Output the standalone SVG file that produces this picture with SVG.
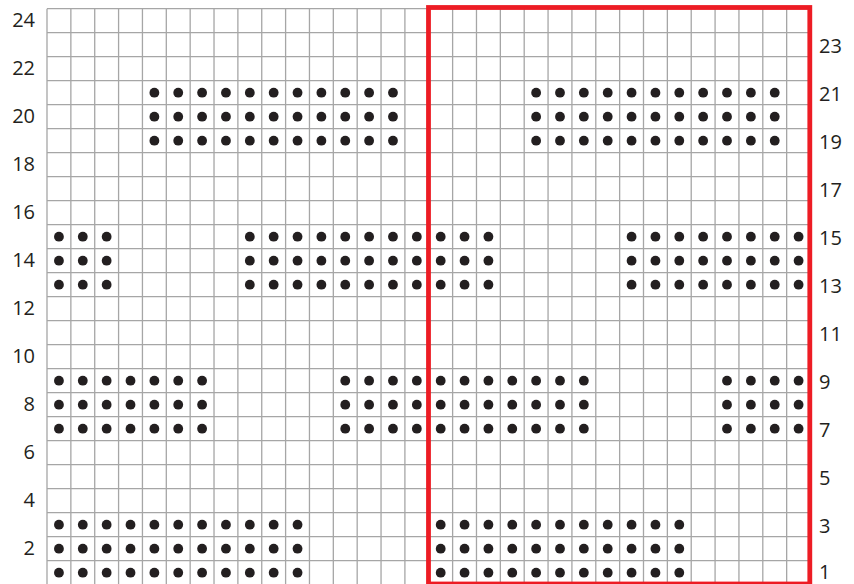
<svg xmlns="http://www.w3.org/2000/svg" xmlns:xlink="http://www.w3.org/1999/xlink" width="854" height="584" viewBox="0 0 854 584">
<style>
.grid{fill:none;stroke:#a6a6a6;stroke-width:1.3}
.frame{fill:none;stroke:#ed1c24;stroke-width:4.8}
.dot{fill:#231f20}
.lbl{font-family:"Open Sans","Liberation Sans",sans-serif;font-size:20px;fill:#231f20}
.l{text-anchor:end}
.r{text-anchor:start}
</style>
<defs>
<circle id="d" r="4.9" class="dot"/>
<g id="rowA">
<use xlink:href="#d" x="58.93"/><use xlink:href="#d" x="82.79"/><use xlink:href="#d" x="106.65"/><use xlink:href="#d" x="130.51"/><use xlink:href="#d" x="154.37"/><use xlink:href="#d" x="178.23"/><use xlink:href="#d" x="202.09"/><use xlink:href="#d" x="225.95"/><use xlink:href="#d" x="249.81"/><use xlink:href="#d" x="273.67"/><use xlink:href="#d" x="297.53"/>
<use xlink:href="#d" x="440.69"/><use xlink:href="#d" x="464.55"/><use xlink:href="#d" x="488.41"/><use xlink:href="#d" x="512.27"/><use xlink:href="#d" x="536.13"/><use xlink:href="#d" x="559.99"/><use xlink:href="#d" x="583.85"/><use xlink:href="#d" x="607.71"/><use xlink:href="#d" x="631.57"/><use xlink:href="#d" x="655.43"/><use xlink:href="#d" x="679.29"/>
</g>
<g id="rowB">
<use xlink:href="#d" x="58.93"/><use xlink:href="#d" x="82.79"/><use xlink:href="#d" x="106.65"/><use xlink:href="#d" x="130.51"/><use xlink:href="#d" x="154.37"/><use xlink:href="#d" x="178.23"/><use xlink:href="#d" x="202.09"/>
<use xlink:href="#d" x="345.25"/><use xlink:href="#d" x="369.11"/><use xlink:href="#d" x="392.97"/><use xlink:href="#d" x="416.83"/><use xlink:href="#d" x="440.69"/><use xlink:href="#d" x="464.55"/><use xlink:href="#d" x="488.41"/><use xlink:href="#d" x="512.27"/><use xlink:href="#d" x="536.13"/><use xlink:href="#d" x="559.99"/><use xlink:href="#d" x="583.85"/>
<use xlink:href="#d" x="727.01"/><use xlink:href="#d" x="750.87"/><use xlink:href="#d" x="774.73"/><use xlink:href="#d" x="798.59"/>
</g>
<g id="rowC">
<use xlink:href="#d" x="58.93"/><use xlink:href="#d" x="82.79"/><use xlink:href="#d" x="106.65"/>
<use xlink:href="#d" x="249.81"/><use xlink:href="#d" x="273.67"/><use xlink:href="#d" x="297.53"/><use xlink:href="#d" x="321.39"/><use xlink:href="#d" x="345.25"/><use xlink:href="#d" x="369.11"/><use xlink:href="#d" x="392.97"/><use xlink:href="#d" x="416.83"/><use xlink:href="#d" x="440.69"/><use xlink:href="#d" x="464.55"/><use xlink:href="#d" x="488.41"/>
<use xlink:href="#d" x="631.57"/><use xlink:href="#d" x="655.43"/><use xlink:href="#d" x="679.29"/><use xlink:href="#d" x="703.15"/><use xlink:href="#d" x="727.01"/><use xlink:href="#d" x="750.87"/><use xlink:href="#d" x="774.73"/><use xlink:href="#d" x="798.59"/>
</g>
<g id="rowD">
<use xlink:href="#d" x="154.37"/><use xlink:href="#d" x="178.23"/><use xlink:href="#d" x="202.09"/><use xlink:href="#d" x="225.95"/><use xlink:href="#d" x="249.81"/><use xlink:href="#d" x="273.67"/><use xlink:href="#d" x="297.53"/><use xlink:href="#d" x="321.39"/><use xlink:href="#d" x="345.25"/><use xlink:href="#d" x="369.11"/><use xlink:href="#d" x="392.97"/>
<use xlink:href="#d" x="536.13"/><use xlink:href="#d" x="559.99"/><use xlink:href="#d" x="583.85"/><use xlink:href="#d" x="607.71"/><use xlink:href="#d" x="631.57"/><use xlink:href="#d" x="655.43"/><use xlink:href="#d" x="679.29"/><use xlink:href="#d" x="703.15"/><use xlink:href="#d" x="727.01"/><use xlink:href="#d" x="750.87"/><use xlink:href="#d" x="774.73"/>
</g>
</defs>
<rect x="0" y="0" width="854" height="584" fill="#ffffff"/>
<g id="grid">
<path class="grid" d="M47 8.7V584.7M70.86 8.7V584.7M94.72 8.7V584.7M118.58 8.7V584.7M142.44 8.7V584.7M166.3 8.7V584.7M190.16 8.7V584.7M214.02 8.7V584.7M237.88 8.7V584.7M261.74 8.7V584.7M285.6 8.7V584.7M309.46 8.7V584.7M333.32 8.7V584.7M357.18 8.7V584.7M381.04 8.7V584.7M404.9 8.7V584.7M428.76 8.7V584.7M452.62 8.7V584.7M476.48 8.7V584.7M500.34 8.7V584.7M524.2 8.7V584.7M548.06 8.7V584.7M571.92 8.7V584.7M595.78 8.7V584.7M619.64 8.7V584.7M643.5 8.7V584.7M667.36 8.7V584.7M691.22 8.7V584.7M715.08 8.7V584.7M738.94 8.7V584.7M762.8 8.7V584.7M786.66 8.7V584.7M810.52 8.7V584.7
M47 8.7H810.52M47 32.7H810.52M47 56.7H810.52M47 80.7H810.52M47 104.7H810.52M47 128.7H810.52M47 152.7H810.52M47 176.7H810.52M47 200.7H810.52M47 224.7H810.52M47 248.7H810.52M47 272.7H810.52M47 296.7H810.52M47 320.7H810.52M47 344.7H810.52M47 368.7H810.52M47 392.7H810.52M47 416.7H810.52M47 440.7H810.52M47 464.7H810.52M47 488.7H810.52M47 512.7H810.52M47 536.7H810.52M47 560.7H810.52M47 584.7H810.52"/>
</g>
<g id="stitches">
<use xlink:href="#rowD" y="92.7"/><use xlink:href="#rowD" y="116.7"/><use xlink:href="#rowD" y="140.7"/>
<use xlink:href="#rowC" y="236.7"/><use xlink:href="#rowC" y="260.7"/><use xlink:href="#rowC" y="284.7"/>
<use xlink:href="#rowB" y="380.7"/><use xlink:href="#rowB" y="404.7"/><use xlink:href="#rowB" y="428.7"/>
<use xlink:href="#rowA" y="524.7"/><use xlink:href="#rowA" y="548.7"/><use xlink:href="#rowA" y="572.7"/>
</g>
<g id="repeat-frame">
<rect class="frame" x="428.5" y="7.5" width="381.3" height="576.5"/>
</g>
<g id="row-labels-left">
<text class="lbl l" x="35" y="26.5">24</text>
<text class="lbl l" x="35" y="74.5">22</text>
<text class="lbl l" x="35" y="122.5">20</text>
<text class="lbl l" x="35" y="170.5">18</text>
<text class="lbl l" x="35" y="218.5">16</text>
<text class="lbl l" x="35" y="266.5">14</text>
<text class="lbl l" x="35" y="314.5">12</text>
<text class="lbl l" x="35" y="362.5">10</text>
<text class="lbl l" x="35" y="410.5">8</text>
<text class="lbl l" x="35" y="458.5">6</text>
<text class="lbl l" x="35" y="506.5">4</text>
<text class="lbl l" x="35" y="554.5">2</text>
</g>
<g id="row-labels-right">
<text class="lbl r" x="819" y="52.5">23</text>
<text class="lbl r" x="819" y="100.5">21</text>
<text class="lbl r" x="819" y="148.5">19</text>
<text class="lbl r" x="819" y="196.5">17</text>
<text class="lbl r" x="819" y="244.5">15</text>
<text class="lbl r" x="819" y="292.5">13</text>
<text class="lbl r" x="819" y="340.5">11</text>
<text class="lbl r" x="819" y="388.5">9</text>
<text class="lbl r" x="819" y="436.5">7</text>
<text class="lbl r" x="819" y="484.5">5</text>
<text class="lbl r" x="819" y="532.5">3</text>
<text class="lbl r" x="819" y="578.5">1</text>
</g>
</svg>
